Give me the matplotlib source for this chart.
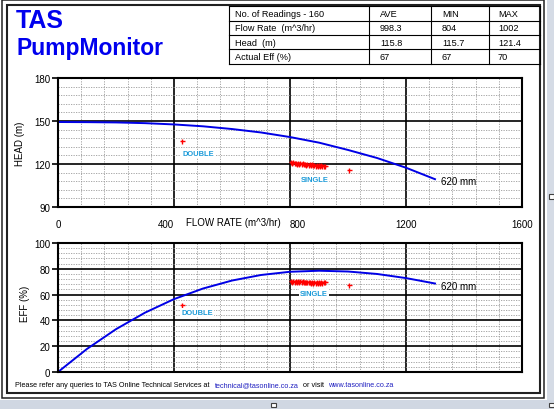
import matplotlib
matplotlib.use('Agg')
import matplotlib.pyplot as plt
from matplotlib.ticker import MultipleLocator
from matplotlib.patches import Rectangle

plt.rcParams['font.family'] = ['Liberation Sans', 'DejaVu Sans']

# pump curve for the 620 mm impeller
curve_flow = [0, 100, 200, 300, 400, 500, 600, 700, 800, 900, 1000, 1100, 1200, 1300]
curve_head = [149.3, 149.2, 149.0, 148.5, 147.6, 146.3, 144.4, 142.0, 138.8, 134.9, 129.8, 124.2, 117.4, 109.4]
curve_eff = [0, 17.9, 33.2, 46.0, 56.5, 64.7, 70.9, 75.2, 77.7, 78.5, 77.9, 76.0, 72.8, 68.6]

# measured readings
double_flow = [428]
double_head = [135.9]
double_eff = [51.6]

single_flow = [804, 808, 812, 816, 820, 824, 828, 832, 836, 840, 844, 848, 852, 856, 860,
               864, 868, 872, 876, 880, 884, 888, 892, 896, 900, 904, 908, 912, 916, 920, 1002]
single_head = [121.4, 120.6, 121.2, 120.4, 121.0, 120.3, 120.9, 120.1, 120.7, 119.9, 120.5,
               119.8, 120.3, 119.6, 120.1, 119.4, 119.9, 119.2, 119.8, 119.0, 119.6, 118.9,
               119.4, 118.7, 119.2, 118.5, 119.0, 118.4, 118.8, 118.5, 115.8]
single_eff = [70.4, 69.6, 70.3, 69.6, 70.3, 69.5, 70.2, 69.5, 70.2, 69.5, 70.2, 69.4, 70.1,
              69.4, 70.1, 69.4, 70.0, 69.3, 70.0, 69.3, 70.0, 69.3, 69.9, 69.2, 69.9, 69.2,
              69.8, 69.2, 69.8, 69.4, 67.6]

# summary table
table_rows = ['No. of Readings - 160', 'Flow Rate  (m^3/hr)', 'Head  (m)', 'Actual Eff (%)']
table_ave = ['AVE', '998.3', '115.8', '67']
table_min = ['MIN', '804', '115.7', '67']
table_max = ['MAX', '1002', '121.4', '70']

flow_ticks = [0, 400, 800, 1200, 1600]
head_ticks = [90, 120, 150, 180]
eff_ticks = [0, 20, 40, 60, 80, 100]

W, H = 554, 410
fig = plt.figure(figsize=(W / 100, H / 100), dpi=100)

# background: frames, window edges and table, in pixel coordinates
bg = fig.add_axes([0, 0, 1, 1])
bg.set_xlim(0, W)
bg.set_ylim(H, 0)
bg.axis('off')
bg.add_patch(Rectangle((547, 0), 7, H, color='#d5dbe5', lw=0))
bg.add_patch(Rectangle((0, 401), W, 9, color='#d0d7e2', lw=0))
bg.add_patch(Rectangle((2, 0.5), 542, 398, fill=False, ec='#202020', lw=1.1))
bg.add_patch(Rectangle((7, 6), 532.5, 387.5, fill=False, ec='#202020', lw=1.5))
for hx, hy in [(549, 195), (271, 403.5), (549, 403.5)]:
    bg.add_patch(Rectangle((hx, hy), 4.5, 4.5, fc='white', ec='#404040', lw=0.8))

bg.text(16, 28.5, 'TAS', color='#0000ee', fontsize=18, fontweight='bold', va='baseline')
bg.text(16, 55, 'PumpMonitor', color='#0000ee', fontsize=16.5, fontweight='bold', va='baseline')

col_x = [229, 369, 431, 489, 539.5]
row_y = [7, 21.5, 36, 50, 64.5]
for x in col_x:
    bg.plot([x, x], [row_y[0], row_y[-1]], color='black', lw=0.8)
for y in row_y:
    bg.plot([col_x[0], col_x[-1]], [y, y], color='black', lw=0.8)
for i in range(4):
    yc = (row_y[i] + row_y[i + 1]) / 2
    bg.text(col_x[0] + 6, yc, table_rows[i], fontsize=6.6, va='center')
    bg.text(col_x[1] + 11, yc, table_ave[i], fontsize=6.6, va='center')
    bg.text(col_x[2] + 11, yc, table_min[i], fontsize=6.6, va='center')
    bg.text(col_x[3] + 9, yc, table_max[i], fontsize=6.6, va='center')

# footer
fs = 5.2
bg.text(15, 386, 'Please refer any queries to TAS Online Technical Services at', fontsize=fs, va='center')
bg.text(215, 386, 'technical@tasonline.co.za', fontsize=fs, va='center', color='#2020c0')
bg.text(303, 386, 'or visit', fontsize=fs, va='center')
bg.text(328, 386, 'www.tasonline.co.za', fontsize=fs, va='center', color='#2020c0')

bg.text(20, 144, 'HEAD (m)', fontsize=7, rotation=90, ha='center', va='center')
bg.text(25, 304, 'EFF (%)', fontsize=7, rotation=90, ha='center', va='center')
bg.text(233.5, 223, 'FLOW RATE (m^3/hr)', fontsize=7, ha='center', va='center')


def style_axes(ax, yticks, yminor):
    ax.set_xlim(0, 1600)
    ax.set_ylim(yticks[0], yticks[-1])
    ax.set_xticks(flow_ticks)
    ax.set_yticks(yticks)
    ax.xaxis.set_minor_locator(MultipleLocator(80))
    ax.yaxis.set_minor_locator(MultipleLocator(yminor))
    ax.grid(True, which='major', color='black', lw=1.2)
    ax.grid(True, which='minor', color='#9a9a9a', lw=0.6, linestyle=(0, (1.5, 1.5)))
    ax.set_axisbelow(True)
    for s in ax.spines.values():
        s.set_linewidth(1.5)
    ax.tick_params(axis='y', length=4, width=1.2, pad=1.5, labelsize=7)
    ax.tick_params(axis='x', length=0, pad=8.5, labelsize=7)
    ax.tick_params(which='minor', length=0)


lbl_style = dict(fontsize=5.4, fontweight='bold', color='#1b9ad8',
                 bbox=dict(fc='white', ec='none', pad=0.6), va='center')

# head vs flow
ax1 = fig.add_axes([58 / W, 1 - 208 / H, 464 / W, 129 / H])
style_axes(ax1, head_ticks, 6)
ax1.set_xticklabels([str(v) for v in flow_ticks])
ax1.get_xticklabels()[1].set_ha('right')
ax1.get_xticklabels()[2].set_ha('left')
ax1.plot(curve_flow, curve_head, color='#0000e6', lw=1.4)
ax1.plot(double_flow, double_head, '+', color='red', ms=3.6, mew=1)
ax1.plot(single_flow, single_head, '+', color='red', ms=3.6, mew=1)
ax1.text(1320, 108.4, '620 mm', fontsize=7, va='center')
ax1.text(428, 127, 'DOUBLE', **lbl_style)
ax1.text(836, 109, 'SINGLE', **lbl_style)

# efficiency vs flow
ax2 = fig.add_axes([58 / W, 1 - 373 / H, 464 / W, 129 / H])
style_axes(ax2, eff_ticks, 4)
ax2.set_xticklabels([])
ax2.plot(curve_flow, curve_eff, color='#0000e6', lw=1.4)
ax2.plot(double_flow, double_eff, '+', color='red', ms=3.6, mew=1)
ax2.plot(single_flow, single_eff, '+', color='red', ms=3.6, mew=1)
ax2.text(1320, 67, '620 mm', fontsize=7, va='center')
ax2.text(426, 46.3, 'DOUBLE', **lbl_style)
ax2.text(834, 60.8, 'SINGLE', **lbl_style)

fig.savefig('out.png', dpi=100)
